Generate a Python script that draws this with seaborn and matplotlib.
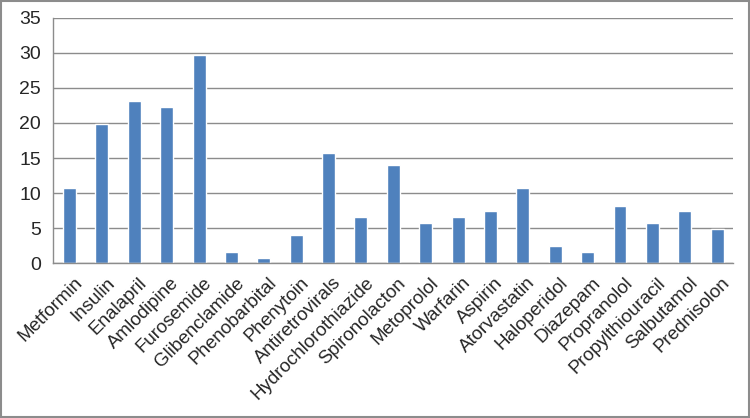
import seaborn as sns
import matplotlib.pyplot as plt
import numpy as np
import pandas as pd
from matplotlib.patches import Rectangle
from matplotlib.transforms import ScaledTranslation

sns.set_style('white')
plt.rcParams['font.family'] = ['Liberation Sans', 'DejaVu Sans']

# 약물 이름과 값
drugs = ['Metformin', 'Insulin', 'Enalapril', 'Amlodipine', 'Furosemide',
         'Glibenclamide', 'Phenobarbital', 'Phenytoin', 'Antiretrovirals',
         'Hydrochlorothiazide', 'Spironolacton', 'Metoprolol', 'Warfarin',
         'Aspirin', 'Atorvastatin', 'Haloperidol', 'Diazepam', 'Propranolol',
         'Propylthiouracil', 'Salbutamol', 'Prednisolon']
values = [10.7, 19.8, 23.1, 22.3, 29.7,
          1.6, 0.8, 4.1, 15.7,
          6.6, 14.0, 5.7, 6.6,
          7.4, 10.7, 2.5, 1.6, 8.2,
          5.7, 7.4, 4.9]
yticks = [0, 5, 10, 15, 20, 25, 30, 35]

df = pd.DataFrame({'drug': drugs, 'value': values})

fig = plt.figure(figsize=(7.5, 4.18), dpi=100)
ax = fig.add_axes([0.0711, 0.370, 0.9067, 0.5876])

sns.barplot(data=df, x='drug', y='value', color='#4F81BD', saturation=1,
            width=0.4, ax=ax)

ax.set_ylim(0, 35)
ax.set_xlim(-0.5, len(drugs) - 0.5)
ax.set_yticks(yticks)
ax.yaxis.grid(True, color='#8c8c8c', linewidth=1)
ax.set_axisbelow(True)
ax.set_xlabel('')
ax.set_ylabel('')

for s in ['top', 'right']:
    ax.spines[s].set_visible(False)
for s in ['left', 'bottom']:
    ax.spines[s].set_color('#8c8c8c')
    ax.spines[s].set_linewidth(1)

# 카테고리 사이에 눈금 (엑셀 스타일)
ax.set_xticks(np.arange(-0.5, len(drugs), 1), minor=True)
ax.tick_params(axis='x', which='major', length=0, pad=8)
ax.tick_params(axis='x', which='minor', length=5, color='#8c8c8c', direction='out')
ax.tick_params(axis='y', length=5, color='#8c8c8c', direction='out', labelsize=14, pad=4)
ax.set_xticks(range(len(drugs)))
ax.set_xticklabels(drugs, rotation=45, ha='right', rotation_mode='anchor', fontsize=13.5)
shift = ScaledTranslation(3 / 72, 0, fig.dpi_scale_trans)
for lbl in ax.get_xticklabels():
    lbl.set_transform(lbl.get_transform() + shift)

# 바깥 테두리
fig.patches.append(Rectangle((0.001, 0.002), 0.997, 0.996, transform=fig.transFigure,
                             fill=False, edgecolor='#8c8c8c', linewidth=1.5))

plt.savefig('out.png', dpi=100)
